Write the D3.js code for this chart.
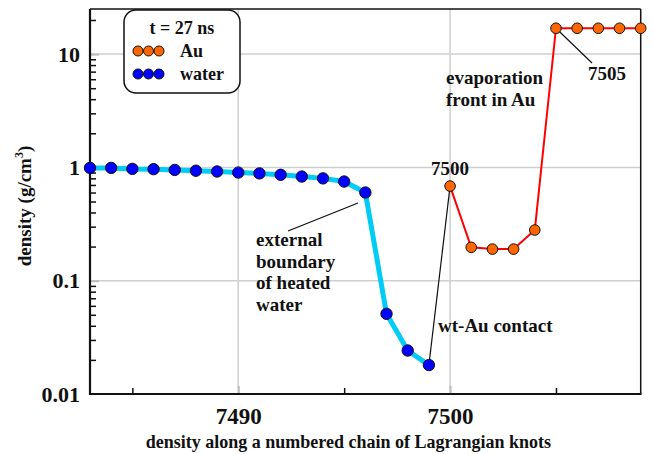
<!DOCTYPE html>
<html><head><meta charset="utf-8">
<script src="https://cdn.jsdelivr.net/npm/d3@7/dist/d3.min.js"></script>
<style>body{margin:0;background:#fff}svg{display:block}svg text{font-family:"Liberation Serif","Times New Roman",serif !important;font-weight:700;fill:#111}</style>
</head><body><svg id="c" width="653" height="454"></svg>
<script>
const waterKnots = [7483,7484,7485,7486,7487,7488,7489,7490,7491,7492,7493,7494,7495,7496,7497,7498,7499];
const waterDensity = [0.99,0.99,0.97,0.965,0.95,0.935,0.92,0.9,0.885,0.86,0.83,0.80,0.75,0.60,0.051,0.0242,0.018];
const auKnots = [7500,7501,7502,7503,7504,7505,7506,7507,7508,7509];
const auDensity = [0.684,0.197,0.19,0.19,0.28,16.9,16.9,16.9,16.9,16.9];
const xTickLabels = [7490,7500];
const xMinorTicks = [7485,7495,7505];
const yTickLabels = [0.01,0.1,1,10];
const yLabelText = ["0.01","0.1","1","10"];

const svg = d3.select("#c");
const L=90,R=640.7,T=9,B=394;
const x = d3.scaleLinear().domain([7483,7509]).range([L,R]);
const y = d3.scaleLog().domain([0.01,25]).range([B,T]);
const FF = "Liberation Serif";

const g = svg.append("g");
xTickLabels.forEach(v=>g.append("line").attr("x1",x(v)).attr("x2",x(v)).attr("y1",T).attr("y2",B).attr("stroke","#cfcfcf").attr("stroke-width",1.5));
yTickLabels.slice(1).forEach(v=>g.append("line").attr("x1",L).attr("x2",R).attr("y1",y(v)).attr("y2",y(v)).attr("stroke","#cfcfcf").attr("stroke-width",1.5));

const minorY=[];
[0.01,0.1,1,10].forEach(d=>{for(let k=2;k<=9;k++){const v=d*k; if(v<=25) minorY.push(v);}});
svg.append("g").attr("transform",`translate(${L},0)`).call(d3.axisRight(y).tickValues(minorY).tickSize(6).tickFormat("")).call(s=>{s.select(".domain").remove();s.selectAll("line").attr("stroke","#111").attr("stroke-width",1.5);});
svg.append("g").attr("transform",`translate(${L},0)`).call(d3.axisRight(y).tickValues(yTickLabels.slice(1)).tickSize(9).tickFormat("")).call(s=>{s.select(".domain").remove();s.selectAll("line").attr("stroke","#bbb").attr("stroke-width",2);});
svg.append("g").attr("transform",`translate(${L},0)`).call(d3.axisLeft(y).tickValues(yTickLabels).tickSize(0).tickPadding(10).tickFormat((d,i)=>yLabelText[i]))
  .attr("font-family",FF).attr("font-size",22)
  .call(s=>{s.select(".domain").remove();s.selectAll("text").attr("font-size",22).attr("font-weight","bold").attr("fill","#111");});

svg.append("g").attr("transform",`translate(0,${B})`).call(d3.axisTop(x).tickValues(xMinorTicks).tickSize(6).tickFormat("")).call(s=>{s.select(".domain").remove();s.selectAll("line").attr("stroke","#111").attr("stroke-width",1.5);});
svg.append("g").attr("transform",`translate(0,${B})`).call(d3.axisTop(x).tickValues(xTickLabels).tickSize(8).tickFormat("")).call(s=>{s.select(".domain").remove();s.selectAll("line").attr("stroke","#bbb").attr("stroke-width",2);});
svg.append("g").attr("transform",`translate(0,${B})`).call(d3.axisBottom(x).tickValues(xTickLabels).tickSize(0).tickPadding(14).tickFormat(d3.format("d")))
  .attr("font-family",FF).attr("font-size",23)
  .call(s=>{s.select(".domain").remove();s.selectAll("text").attr("font-size",23).attr("font-weight","bold").attr("fill","#111");});

svg.append("line").attr("x1",L).attr("x2",R).attr("y1",T).attr("y2",T).attr("stroke","#111").attr("stroke-width",1.5);
svg.append("line").attr("x1",R).attr("x2",R).attr("y1",T).attr("y2",B).attr("stroke","#111").attr("stroke-width",1.5);
svg.append("line").attr("x1",L).attr("x2",L).attr("y1",T).attr("y2",B+1).attr("stroke","#111").attr("stroke-width",2.2);
svg.append("line").attr("x1",L-1).attr("x2",R+0.7).attr("y1",B).attr("y2",B).attr("stroke","#111").attr("stroke-width",2.2);

svg.append("text").attr("x",(L+R)/2-17).attr("y",448).attr("text-anchor","middle").attr("font-size",18).text("density along a numbered chain of Lagrangian knots");
const yt = svg.append("text").attr("transform","translate(31,206) rotate(-90)").attr("text-anchor","middle").attr("font-size",19);
yt.append("tspan").text("density (g/cm");
yt.append("tspan").attr("font-size",12).attr("dy",-8).text("3");
yt.append("tspan").attr("dy",8).text(")");

const water = waterKnots.map((k,i)=>[k,waterDensity[i]]);
const au = auKnots.map((k,i)=>[k,auDensity[i]]);
const line = d3.line().x(d=>x(d[0])).y(d=>y(d[1]));
svg.append("path").attr("d",line(water)).attr("fill","none").attr("stroke","#00ccf5").attr("stroke-width",5).attr("stroke-linejoin","round");
svg.append("path").attr("d",line(au)).attr("fill","none").attr("stroke","#ff0000").attr("stroke-width",2);
svg.append("path").attr("d",line([water[water.length-1],au[0]])).attr("fill","none").attr("stroke","#111").attr("stroke-width",1.2);

svg.append("line").attr("x1",288).attr("y1",231).attr("x2",358).attr("y2",203).attr("stroke","#111").attr("stroke-width",1.2);
svg.append("line").attr("x1",x(7505)).attr("y1",y(16.9)).attr("x2",592).attr("y2",63).attr("stroke","#111").attr("stroke-width",1.2);

svg.append("g").selectAll("circle").data(water).join("circle").attr("cx",d=>x(d[0])).attr("cy",d=>y(d[1])).attr("r",5.7).attr("fill","#0000ff").attr("stroke","#111").attr("stroke-width",1);
svg.append("g").selectAll("circle").data(au).join("circle").attr("cx",d=>x(d[0])).attr("cy",d=>y(d[1])).attr("r",5.3).attr("fill","#ff6600").attr("stroke","#111").attr("stroke-width",1);

function lines(arr,xx,y0,dy,anchor){arr.forEach((t,i)=>svg.append("text").attr("x",xx).attr("y",y0+i*dy).attr("font-size",19).attr("text-anchor",anchor||"start").text(t));}
lines(["7500"],450,175,0,"middle");
lines(["7505"],607,80,0,"middle");
lines(["evaporation","front in Au"],446,84,21.5);
lines(["external","boundary","of heated","water"],256,246,21.5);
lines(["wt-Au contact"],438,332,0);

svg.append("rect").attr("x",124).attr("y",10).attr("width",116).attr("height",83).attr("rx",12).attr("fill","#fff").attr("stroke","#111").attr("stroke-width",1.5);
svg.append("text").attr("x",182).attr("y",34).attr("text-anchor","middle").attr("font-size",18).text("t = 27 ns");
const legendItems = [["Au","#ff6600",51],["water","#0000ff",74]];
legendItems.forEach(([name,col,yy])=>{
  [0,1,2].forEach(j=>svg.append("circle").attr("cx",138+j*10.5).attr("cy",yy).attr("r",5).attr("fill",col).attr("stroke","#111").attr("stroke-width",1));
  svg.append("text").attr("x",180).attr("y",yy+6).attr("font-size",18).text(name);
});
</script></body></html>
